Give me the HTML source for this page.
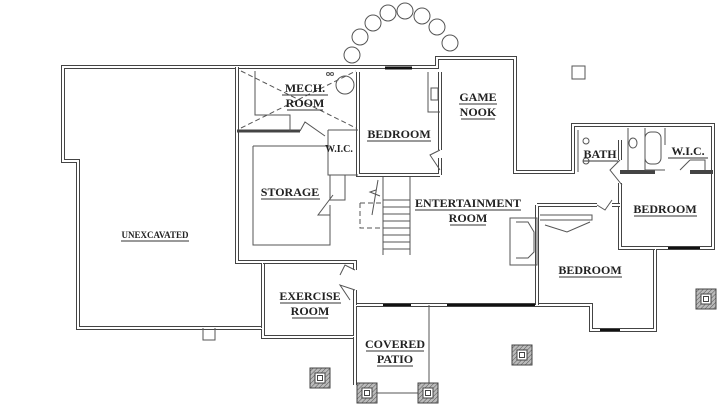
<!DOCTYPE html>
<html><head><style>
html,body{margin:0;padding:0;background:#fff;}
svg{display:block}
text{font-family:"Liberation Serif",serif;font-weight:bold;fill:#222;text-anchor:middle;}
.w{fill:none;stroke:#444;stroke-width:4;stroke-linejoin:miter}
.wi{fill:none;stroke:#fff;stroke-width:2;stroke-linejoin:miter}
.t{fill:none;stroke:#555;stroke-width:1}
.d{fill:none;stroke:#555;stroke-width:1;stroke-dasharray:5 3}
.u{stroke:#333;stroke-width:1}
</style></head><body>
<svg width="725" height="407" viewBox="0 0 725 407" xmlns="http://www.w3.org/2000/svg">
<defs>
<pattern id="h" width="3" height="3" patternUnits="userSpaceOnUse" patternTransform="rotate(45)">
<rect width="3" height="3" fill="#bbb"/><line x1="0" y1="0" x2="0" y2="3" stroke="#555" stroke-width="1"/></pattern>
<g id="pier"><rect x="-10" y="-10" width="20" height="20" fill="url(#h)" stroke="#444"/><rect x="-5" y="-5" width="10" height="10" fill="#fff" stroke="#444"/><rect x="-2.5" y="-2.5" width="5" height="5" fill="#fff" stroke="#444"/></g>
</defs>
<path d="M63 67 L437 67 L437 58 L515 58 L515 172 L573 172 L573 125 L713 125 L713 248 L655 248 L655 330 L591 330 L591 305 L355 305 L355 337 L263 337 L263 328 L78 328 L78 161 L63 161 Z" class="w"/>
<path d="M63 67 L437 67 L437 58 L515 58 L515 172 L573 172 L573 125 L713 125 L713 248 L655 248 L655 330 L591 330 L591 305 L355 305 L355 337 L263 337 L263 328 L78 328 L78 161 L63 161 Z" class="wi"/>
<path d="M237 67 L237 262 L263 262 L263 328" class="w"/><path d="M237 67 L237 262 L263 262 L263 328" class="wi"/>
<path d="M237 131 L300 131" stroke="#444" stroke-width="3"/>
<path d="M358 72 L358 175 L440 175 M440 72 L440 150 M440 158 L440 175" class="w"/>
<path d="M358 72 L358 175 L440 175 M440 72 L440 150 M440 158 L440 175" class="wi"/>
<path d="M328 130 L358 130 M328 130 L328 175 L358 175" class="t"/>
<path d="M253 146 L330 146 M253 146 L253 245 L330 245 L330 205" class="t"/>
<path d="M263 262 L355 262 L355 270 M355 290 L355 305" class="w"/>
<path d="M263 262 L355 262 L355 270 M355 290 L355 305" class="wi"/>
<path d="M330 175 L330 200 L345 200 L345 175" class="t"/>
<path d="M620 183 L620 248 L655 248 M620 172 L655 172 M690 172 L713 172 M620 140 L620 160" class="w"/>
<path d="M620 183 L620 248 L655 248 M620 140 L620 160" class="wi"/>
<path d="M537 205 L597 205 M612 205 L620 205 M537 205 L537 305" class="w"/>
<path d="M537 205 L597 205 M612 205 L620 205 M537 205 L537 305" class="wi"/>
<path d="M578 130 L578 172 M628 128 L628 170 M645 128 L645 170 L665 170 M665 128 L665 145 M690 160 L705 160 L705 170" class="t"/>
<rect x="645" y="132" width="16" height="32" rx="6" class="t"/>
<ellipse cx="633" cy="143" rx="4" ry="5" class="t"/>
<circle cx="586" cy="141" r="3" class="t"/><circle cx="586" cy="161" r="3" class="t"/>
<path d="M540 215 L592 215 L592 220 L540 220 M545 225 L567 232 L590 222" class="t"/>
<path d="M510 218 L537 218 L537 265 L510 265 Z M516 222 L528 222 L534 232 L534 252 L528 258 L516 258" class="t"/>
<path d="M428 72 L428 112 L440 112 M431 88 L438 88 L438 100 L431 100 Z" class="t"/>
<path d="M241 71 L356 128 M241 128 L356 71" class="d"/>
<path d="M255 71 L255 115 L290 115 L290 131" class="t"/>
<circle cx="345" cy="85" r="9" class="t"/>
<circle cx="328" cy="74" r="1.5" class="t"/><circle cx="332" cy="74" r="1.5" class="t"/>
<path d="M385 68 L412 68" stroke="#111" stroke-width="3"/>
<path d="M383 305 L411 305 M447 305 L490 305 M490 305 L535 305 M600 330 L620 330 M668 248 L700 248" stroke="#111" stroke-width="2"/>
<path d="M383 177 L383 255 M410 177 L410 255" class="t"/>
<g class="t"><path d="M383 200 L410 200 M383 207 L410 207 M383 214 L410 214 M383 221 L410 221 M383 228 L410 228 M383 235 L410 235 M383 242 L410 242 M383 249 L410 249"/></g>
<path d="M360 203 L383 203 M360 203 L360 228 L383 228" class="d"/>
<path d="M378 180 L372 215 M376 190 L370 192 L380 196" class="t"/>
<path d="M300 131 L305 122 L325 136 M440 150 L430 155 L440 170 M333 195 L318 215 L330 215 M355 270 L345 265 L340 275 M355 290 L340 285 L350 300 M597 205 L605 210 L612 200 M620 160 L610 170 L622 185 M690 160 L680 170" class="t"/>
<g class="t"><circle cx="352" cy="55" r="8"/><circle cx="360" cy="37" r="8"/><circle cx="373" cy="23" r="8"/><circle cx="388" cy="13" r="8"/><circle cx="405" cy="11" r="8"/><circle cx="422" cy="16" r="8"/><circle cx="437" cy="27" r="8"/><circle cx="450" cy="43" r="8"/></g>
<rect x="572" y="66" width="13" height="13" class="t"/>
<path d="M429 305 L429 385 M367 393 L428 393" class="t"/>
<path d="M355 337 L355 385" class="w"/><path d="M355 337 L355 385" class="wi"/>
<path d="M203 328 L203 340 L215 340 L215 328" class="t"/>
<use href="#pier" x="320" y="378"/><use href="#pier" x="367" y="393"/><use href="#pier" x="428" y="393"/><use href="#pier" x="522" y="355"/><use href="#pier" x="706" y="299"/>
<g font-size="12">
<text x="305" y="92">MECH.</text><text x="305" y="107">ROOM</text>
<text x="399" y="138">BEDROOM</text>
<text x="478" y="101">GAME</text><text x="478" y="116">NOOK</text>
<text x="290" y="196">STORAGE</text>
<text x="468" y="207">ENTERTAINMENT</text><text x="468" y="222">ROOM</text>
<text x="600" y="158">BATH</text><text x="688" y="155">W.I.C.</text>
<text x="665" y="213">BEDROOM</text>
<text x="590" y="274">BEDROOM</text>
<text x="310" y="300">EXERCISE</text><text x="310" y="315">ROOM</text>
<text x="395" y="348">COVERED</text><text x="395" y="363">PATIO</text>
</g>
<text x="339" y="152" font-size="10">W.I.C.</text>
<text x="155" y="238" font-size="9">UNEXCAVATED</text>
<g class="u">
<line x1="282" y1="95" x2="328" y2="95"/><line x1="287" y1="110" x2="323" y2="110"/>
<line x1="367" y1="141" x2="431" y2="141"/><line x1="459" y1="104" x2="497" y2="104"/><line x1="461" y1="119" x2="495" y2="119"/>
<line x1="261" y1="199" x2="320" y2="199"/><line x1="415" y1="210" x2="521" y2="210"/><line x1="450" y1="225" x2="486" y2="225"/>
<line x1="583" y1="161" x2="618" y2="161"/><line x1="668" y1="158" x2="708" y2="158"/><line x1="634" y1="216" x2="697" y2="216"/>
<line x1="559" y1="277" x2="622" y2="277"/><line x1="280" y1="303" x2="341" y2="303"/><line x1="292" y1="318" x2="328" y2="318"/>
<line x1="366" y1="351" x2="424" y2="351"/><line x1="377" y1="366" x2="413" y2="366"/>
<line x1="121" y1="241" x2="189" y2="241"/>
</g>
</svg>
</body></html>
